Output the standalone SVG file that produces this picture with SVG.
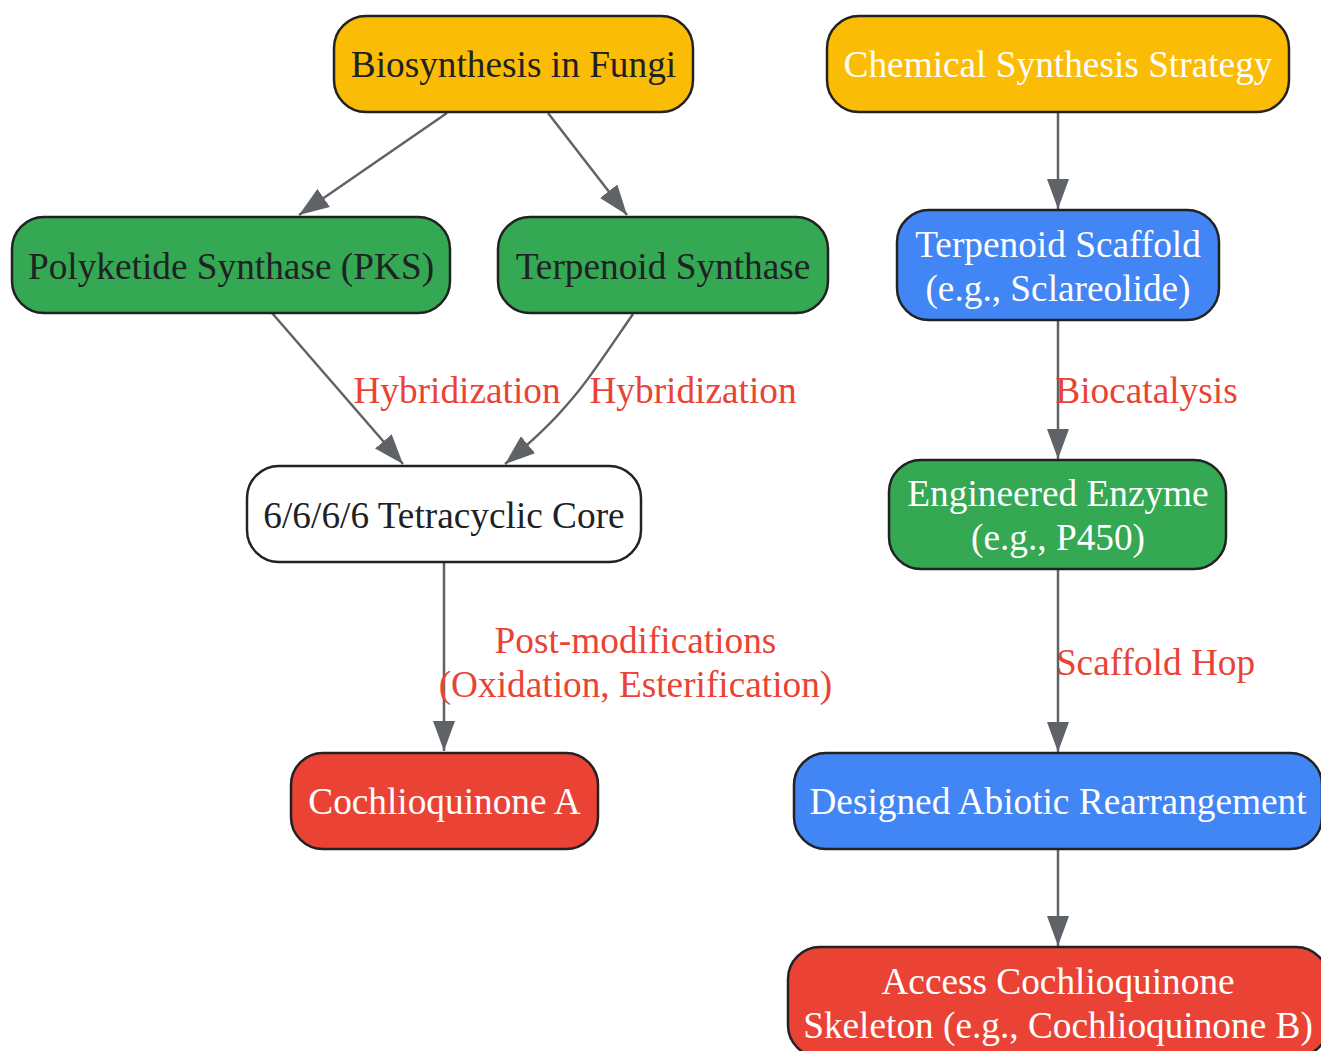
<svg xmlns="http://www.w3.org/2000/svg" width="1321" height="1051" viewBox="0 0 1321 1051">
<style>
.box{stroke:#222222;stroke-width:2.5}
.yellow{fill:#FBBC05}
.green{fill:#34A853}
.blue{fill:#4285F4}
.red{fill:#EA4335}
.white{fill:#FFFFFF}
text{font-family:"Liberation Serif","Times New Roman",serif;font-size:37.3px;text-anchor:middle}
.dark{fill:#202124}
.light{fill:#FFFFFF}
.lbl{fill:#EA4335}
.edge{fill:none;stroke:#5F6368;stroke-width:2.5}
</style>
<defs>
<marker id="arr" viewBox="0 0 30 22" refX="30" refY="11" markerWidth="30" markerHeight="22" markerUnits="userSpaceOnUse" orient="auto">
<path d="M0,0 L30,11 L0,22 z" fill="#5F6368"/>
</marker>
</defs>
<rect width="1321" height="1051" fill="#FFFFFF"/>
<g id="connectors">
<path class="edge" d="M447,113 L299,215" marker-end="url(#arr)"/>
<path class="edge" d="M548,113 L627,215" marker-end="url(#arr)"/>
<path class="edge" d="M272,313 L403,464" marker-end="url(#arr)"/>
<path class="edge" d="M633,314 C600,362 585,385 565,407 C548,427 530,443 505,464" marker-end="url(#arr)"/>
<path class="edge" d="M444,563 L444,751" marker-end="url(#arr)"/>
<path class="edge" d="M1058,112 L1058,209" marker-end="url(#arr)"/>
<path class="edge" d="M1058,320 L1058,459" marker-end="url(#arr)"/>
<path class="edge" d="M1058,569 L1058,752" marker-end="url(#arr)"/>
<path class="edge" d="M1058,849 L1058,946" marker-end="url(#arr)"/>
<text class="lbl" x="457" y="403">Hybridization</text>
<text class="lbl" x="693" y="403">Hybridization</text>
<text class="lbl" x="635.5" y="653">Post-modifications</text>
<text class="lbl" x="635.5" y="697">(Oxidation, Esterification)</text>
<text class="lbl" x="1146.5" y="403">Biocatalysis</text>
<text class="lbl" x="1155.5" y="675">Scaffold Hop</text>
</g>
<g id="n-bio">
<rect class="box yellow" x="334" y="16" width="359" height="96" rx="32"/>
<text class="dark" x="513.5" y="77">Biosynthesis in Fungi</text>
</g>
<g id="n-chem">
<rect class="box yellow" x="827" y="16" width="462" height="96" rx="32"/>
<text class="light" x="1058" y="77">Chemical Synthesis Strategy</text>
</g>
<g id="n-pks">
<rect class="box green" x="12" y="217" width="438" height="96" rx="32"/>
<text class="dark" x="231" y="279">Polyketide Synthase (PKS)</text>
</g>
<g id="n-ts">
<rect class="box green" x="498" y="217" width="330" height="96" rx="32"/>
<text class="dark" x="663" y="279">Terpenoid Synthase</text>
</g>
<g id="n-scaffold">
<rect class="box blue" x="897" y="210" width="322" height="110" rx="32"/>
<text class="light" x="1058" y="257">Terpenoid Scaffold</text>
<text class="light" x="1058" y="301">(e.g., Sclareolide)</text>
</g>
<g id="n-core">
<rect class="box white" x="247" y="466" width="394" height="96" rx="32"/>
<text class="dark" x="444" y="528">6/6/6/6 Tetracyclic Core</text>
</g>
<g id="n-enzyme">
<rect class="box green" x="889" y="460" width="337" height="109" rx="32"/>
<text class="light" x="1058" y="506">Engineered Enzyme</text>
<text class="light" x="1058" y="550">(e.g., P450)</text>
</g>
<g id="n-cqa">
<rect class="box red" x="291" y="753" width="307" height="96" rx="32"/>
<text class="light" x="444.5" y="814">Cochlioquinone A</text>
</g>
<g id="n-designed">
<rect class="box blue" x="794" y="753" width="528" height="96" rx="32"/>
<text class="light" x="1058" y="814">Designed Abiotic Rearrangement</text>
</g>
<g id="n-access">
<rect class="box red" x="788" y="947" width="540" height="110" rx="32"/>
<text class="light" x="1058" y="994">Access Cochlioquinone</text>
<text class="light" x="1058" y="1038">Skeleton (e.g., Cochlioquinone B)</text>
</g>
</svg>
